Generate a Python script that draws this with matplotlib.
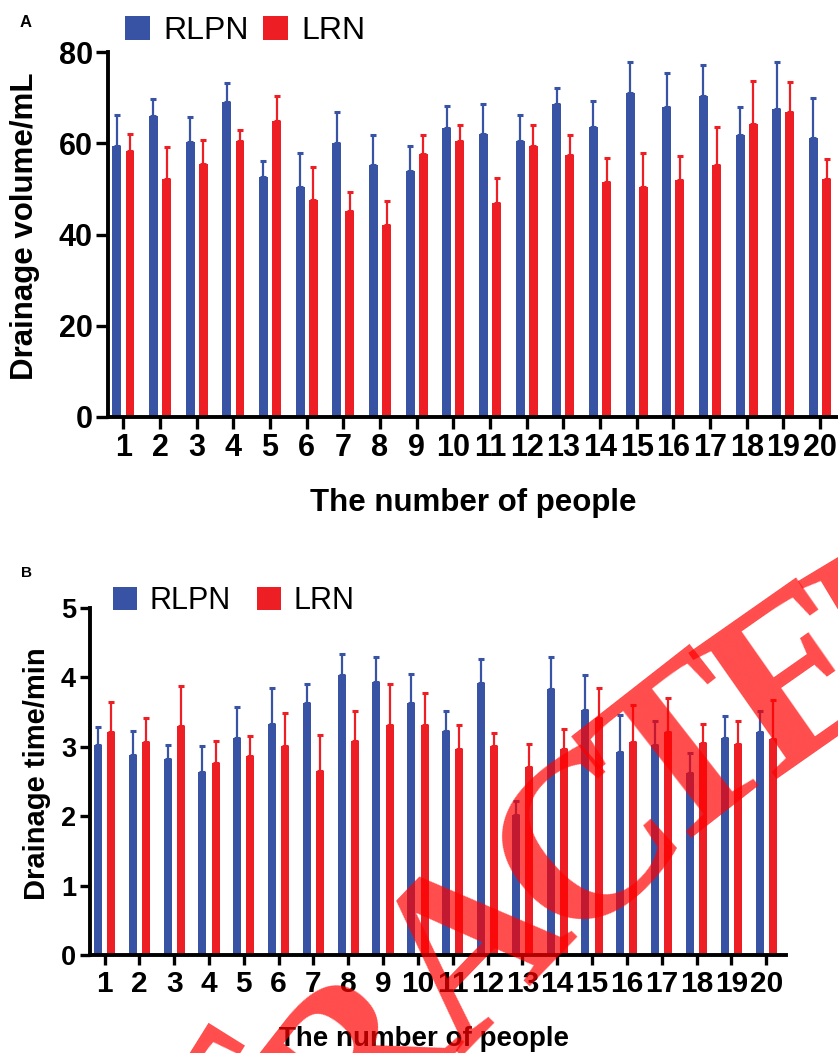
import numpy as np
import matplotlib
matplotlib.use("Agg")
import matplotlib.pyplot as plt

plt.rcParams['font.family'] = ['Liberation Sans', 'DejaVu Sans']

# ---- data ----
people = np.arange(1, 21)

vol_rlpn = [59.4, 66.0, 60.3, 69.0, 52.7, 50.5, 60.1, 55.2, 54.0, 63.3,
            62.1, 60.6, 68.7, 63.6, 71.1, 68.0, 70.4, 61.9, 67.4, 61.2]
vol_rlpn_sd = [6.9, 3.6, 5.4, 4.1, 3.5, 7.4, 6.7, 6.7, 5.4, 4.9,
               6.6, 5.7, 3.4, 5.7, 6.7, 7.3, 6.8, 6.1, 10.4, 8.8]
vol_lrn = [58.4, 52.2, 55.4, 60.4, 64.8, 47.5, 45.1, 42.0, 57.6, 60.4,
           47.0, 59.3, 57.4, 51.4, 50.4, 51.9, 55.2, 64.3, 66.8, 52.2]
vol_lrn_sd = [3.7, 6.9, 5.3, 2.4, 5.5, 7.4, 4.3, 5.3, 4.2, 3.7,
              5.3, 4.6, 4.5, 5.4, 7.5, 5.4, 8.3, 9.3, 6.6, 4.4]

time_rlpn = [3.03, 2.88, 2.83, 2.63, 3.13, 3.33, 3.63, 4.03, 3.93, 3.63,
             3.23, 3.92, 2.02, 3.83, 3.53, 2.93, 3.03, 2.62, 3.13, 3.22]
time_rlpn_sd = [0.25, 0.35, 0.19, 0.38, 0.45, 0.52, 0.27, 0.30, 0.36, 0.42,
                0.29, 0.35, 0.20, 0.46, 0.50, 0.53, 0.34, 0.29, 0.32, 0.29]
time_lrn = [3.21, 3.07, 3.30, 2.77, 2.87, 3.01, 2.65, 3.08, 3.31, 3.32,
            2.97, 3.01, 2.71, 2.97, 3.41, 3.07, 3.21, 3.05, 3.04, 3.11]
time_lrn_sd = [0.44, 0.34, 0.58, 0.32, 0.29, 0.48, 0.52, 0.43, 0.59, 0.45,
               0.34, 0.19, 0.33, 0.28, 0.44, 0.53, 0.50, 0.28, 0.33, 0.56]

BLUE = '#3953a4'
RED = '#ed1f24'

W, H = 838, 1053
fig = plt.figure(figsize=(W / 100, H / 100), dpi=100)


def fx(x):
    return x / W


def fy(y):
    return 1 - y / H


def panel(ax, a, a_sd, b, b_sd, width, off, ylim, yticks, xlim,
          ytick_fs, xtick_fs, tick_len):
    ax.bar(people - off, a, width, color=BLUE, zorder=2)
    ax.bar(people + off, b, width, color=RED, zorder=2)
    z = np.zeros(len(people))
    ax.errorbar(people - off, a, yerr=[z, a_sd], fmt='none', ecolor=BLUE,
                elinewidth=1.6, capsize=2.2, capthick=2.2, zorder=3)
    ax.errorbar(people + off, b, yerr=[z, b_sd], fmt='none', ecolor=RED,
                elinewidth=1.6, capsize=2.2, capthick=2.2, zorder=3)
    ax.set_xlim(*xlim)
    ax.set_ylim(*ylim)
    ax.set_yticks(yticks)
    ax.set_xticks(people)
    for s in ['top', 'right']:
        ax.spines[s].set_visible(False)
    for s in ['left', 'bottom']:
        ax.spines[s].set_linewidth(2.8)
    ax.tick_params(axis='both', width=2.4, length=tick_len, direction='out')
    ax.tick_params(axis='y', labelsize=ytick_fs, pad=2.5)
    ax.tick_params(axis='x', labelsize=xtick_fs, pad=3)
    for lab in ax.get_xticklabels() + ax.get_yticklabels():
        lab.set_fontweight('bold')


# ---- panel A ----
axA = fig.add_axes([fx(108), fy(417), (838 - 108) / W, (417 - 52) / H])
panel(axA, vol_rlpn, vol_rlpn_sd, vol_lrn, vol_lrn_sd, 0.245, 0.18,
      (0, 80), [0, 20, 40, 60, 80], (0.58, 20.49), 22, 22, 8.5)

fig.text(fx(25), fy(226), 'Drainage volume/mL', rotation=90, ha='center',
         va='center', fontsize=22.5, fontweight='bold')
fig.text(fx(473), fy(503), 'The number of people', ha='center', va='center',
         fontsize=22.5, fontweight='bold')
fig.text(fx(20), fy(27), 'A', fontsize=12, fontweight='bold')
legA = axA.legend(['RLPN', 'LRN'], loc='center left',
                  bbox_to_anchor=(fx(125), fy(31)), bbox_transform=fig.transFigure,
                  ncol=2, frameon=False, fontsize=23, borderpad=0,
                  borderaxespad=0, handlelength=0.79, handleheight=0.79,
                  handletextpad=0.4, columnspacing=0.45)

# ---- panel B ----
axB = fig.add_axes([fx(90), fy(955), (786 - 90) / W, (955 - 608) / H])
panel(axB, time_rlpn, time_rlpn_sd, time_lrn, time_lrn_sd, 0.23, 0.19,
      (0, 5), [0, 1, 2, 3, 4, 5], (0.583, 20.57), 19.5, 21.5, 7.5)

fig.text(fx(37), fy(774), 'Drainage time/min', rotation=90, ha='center',
         va='center', fontsize=21, fontweight='bold')
fig.text(fx(424), fy(1039), 'The number of people', ha='center', va='center',
         fontsize=20, fontweight='bold')
fig.text(fx(21), fy(577), 'B', fontsize=11, fontweight='bold')
legB = axB.legend(['RLPN', 'LRN'], loc='center left',
                  bbox_to_anchor=(fx(113), fy(601)), bbox_transform=fig.transFigure,
                  ncol=2, frameon=False, fontsize=22, borderpad=0,
                  borderaxespad=0, handlelength=0.78, handleheight=0.78,
                  handletextpad=0.42, columnspacing=0.86)

# ---- retraction stamp over the figure (only the part that falls on the canvas) ----
stamp = [('T', 250, 1135, 58), ('R', 365, 1072, 52), ('A', 478, 955, 46),
         ('C', 592, 848, 42), ('T', 690, 765, 38), ('E', 805, 688, 35),
         ('D', 918, 622, 31)]
for ch, x, y, rot in stamp:
    fig.text(fx(x), fy(y), ch, rotation=rot, ha='center', va='center',
             fontsize=170, family='Liberation Serif', fontweight='bold',
             color='red', alpha=0.7, zorder=10)

fig.savefig('out.png', dpi=100)
